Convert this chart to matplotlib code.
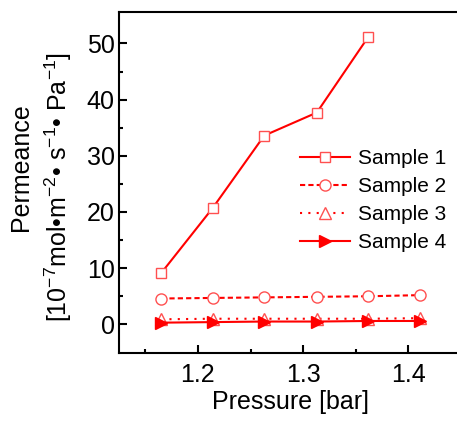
import numpy as np
import matplotlib
matplotlib.use("Agg")
import matplotlib.pyplot as plt

plt.rcParams['font.family'] = ['Liberation Sans', 'DejaVu Sans']
plt.rcParams['mathtext.fontset'] = 'custom'
plt.rcParams['mathtext.rm'] = 'Liberation Sans'
plt.rcParams['mathtext.default'] = 'regular'

pressure = [1.165, 1.214, 1.263, 1.313, 1.362, 1.411]
sample1 = [9.1, 20.7, 33.6, 37.7, 51.2]
sample2 = [4.6, 4.7, 4.8, 4.9, 5.0, 5.2]
sample3 = [0.9, 1.0, 1.0, 1.0, 1.0, 1.1]
sample4 = [0.3, 0.4, 0.5, 0.5, 0.6, 0.6]

red = '#ff0000'

fig = plt.figure(figsize=(4.57, 4.23), dpi=100)
ax = fig.add_axes([119/457, 70/423, 342/457, 341/423])

ax.plot(pressure[:5], sample1, '-', color=red, lw=1.5, marker='s', ms=7,
        mfc='white', mec='#ff5050', mew=1, label='Sample 1')
ax.plot(pressure, sample2, color=red, lw=1.5, dashes=(2.5, 1.5), marker='o', ms=8,
        mfc='white', mec='#ff5050', mew=1, label='Sample 2')
ax.plot(pressure, sample3, color=red, lw=1.5, dashes=(1, 3), marker='^', ms=8,
        mfc='white', mec='#ff5050', mew=1, label='Sample 3')
ax.plot(pressure, sample4, '-', color=red, lw=1.5, marker='>', ms=9,
        mfc=red, mec=red, label='Sample 4')

ax.set_xlim(1.125, 1.45)
ax.set_ylim(-5.1, 55.6)
ax.set_xticks([1.2, 1.3, 1.4])
ax.set_xticks([1.15, 1.25, 1.35, 1.45], minor=True)
ax.set_yticks([0, 10, 20, 30, 40, 50])
ax.set_yticks([5, 15, 25, 35, 45], minor=True)
ax.tick_params(which='both', direction='in', top=False, right=False, labelsize=18)
ax.tick_params(which='major', length=6, width=1.5)
ax.tick_params(which='minor', length=3, width=1.5)
ax.tick_params(axis='x', pad=7)
ax.tick_params(axis='y', pad=3)
for s in ax.spines.values():
    s.set_linewidth(1.5)

ax.set_xlabel('Pressure [bar]', fontsize=18, labelpad=2)
fig.text(21/457, 1-167/423, 'Permeance', rotation=90, fontsize=18,
         ha='center', va='center')
fig.text(58/457, 1-187/423, '[10$^{-7}$mol•m$^{-2}$• s$^{-1}$• Pa$^{-1}$]',
         rotation=90, fontsize=18, ha='center', va='center')

ax.legend(loc='upper left', bbox_to_anchor=(300/457, 1-149/423),
          bbox_transform=fig.transFigure, frameon=False,
          fontsize=15, handlelength=2.4, labelspacing=0.43, borderpad=0,
          borderaxespad=0, handletextpad=0.4)

fig.savefig('out.png', dpi=100)
